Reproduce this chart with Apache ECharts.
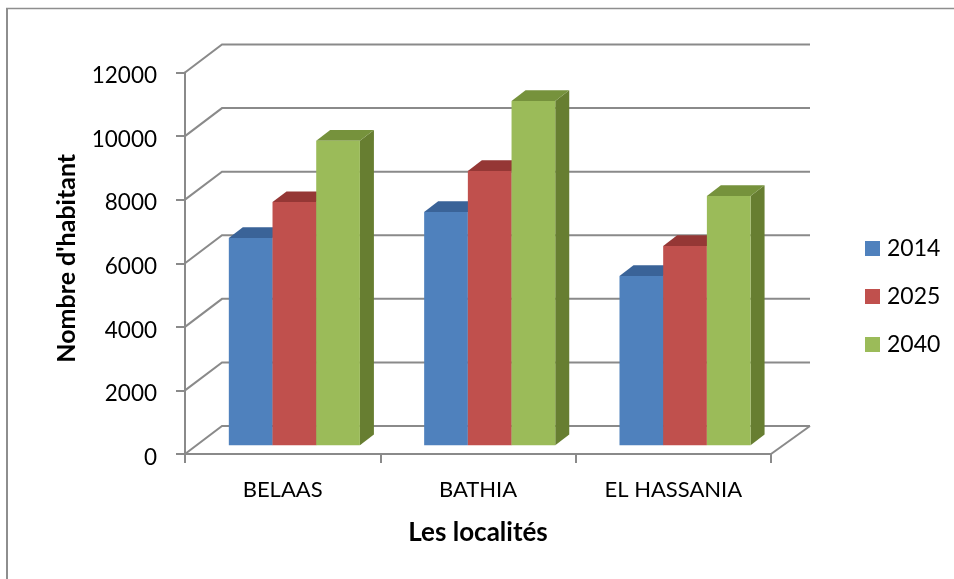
<!DOCTYPE html>
<html>
<head>
<meta charset="utf-8">
<style>html,body{margin:0;padding:0;background:#fff}#c{width:954px;height:579px}</style>
<script src="https://cdn.jsdelivr.net/npm/echarts@6/dist/echarts.min.js"></script>
</head>
<body>
<div id="c"></div>
<script>
// Population par localité, trois horizons
const localites = ['BELAAS', 'BATHIA', 'EL HASSANIA'];
const annees = ['2014', '2025', '2040'];
const pop2014 = [6520, 7340, 5325];
const pop2025 = [7650, 8630, 6270];
const pop2040 = [9580, 10830, 7840];
const graduations = [0, 2000, 4000, 6000, 8000, 10000, 12000];

const valeurs = [pop2014, pop2025, pop2040];
const faces = [
  { front: '#4F81BD', top: '#3A6398', side: '#38608F' },
  { front: '#C0504D', top: '#953735', side: '#8F3A38' },
  { front: '#9BBB59', top: '#76923C', side: '#677E31' }
];

// Oblique projection used for the pseudo-3D box
const wallDx = 37, wallDy = -28;     // front plane to back wall
const barDx = 11.7, barDy = -8.7;    // front plane to bar front face
const sideDx = 14, sideDy = -10.7;   // bar depth
const barRatio = 0.2237;             // bar width as a share of a category
const gridColor = '#8A8A8A';

function renderWall(params, api) {
  const cs = params.coordSys;
  const y = api.coord([0, api.value(1)])[1];
  const children = [{
    type: 'polyline',
    shape: { points: [[cs.x, y], [cs.x + wallDx, y + wallDy], [cs.x + cs.width + wallDx + 2, y + wallDy]] },
    style: { stroke: gridColor, lineWidth: 2, fill: null }
  }];
  if (api.value(1) === 0) {
    children.push({
      type: 'line',
      shape: { x1: cs.x + cs.width, y1: y, x2: cs.x + cs.width + wallDx + 2, y2: y + wallDy },
      style: { stroke: gridColor, lineWidth: 2 }
    });
  }
  return { type: 'group', children };
}

function barRenderer(idx) {
  return function (params, api) {
    const band = api.size([1, 0])[0];
    const w = band * barRatio;
    const top = api.coord([api.value(0), api.value(1)]);
    const base = api.coord([api.value(0), 0]);
    const x0 = top[0] + barDx + (idx - 1.5) * w;
    const x1 = x0 + w;
    const yT = top[1] + barDy;
    const yB = base[1] + barDy;
    const f = faces[idx];
    return {
      type: 'group',
      children: [
        { type: 'polygon', shape: { points: [[x1, yT], [x1 + sideDx, yT + sideDy], [x1 + sideDx, yB + sideDy], [x1, yB]] }, style: { fill: f.side } },
        { type: 'polygon', shape: { points: [[x0, yT], [x0 + sideDx, yT + sideDy], [x1 + sideDx, yT + sideDy], [x1, yT]] }, style: { fill: f.top } },
        { type: 'rect', shape: { x: x0, y: yT, width: w, height: yB - yT }, style: { fill: f.front } }
      ]
    };
  };
}

const chart = echarts.init(document.getElementById('c'), null, { renderer: 'canvas' });
chart.setOption({
  animation: false,
  backgroundColor: '#fff',
  textStyle: { fontFamily: 'Lato' },
  grid: { left: 185, right: 183, top: 72.5, bottom: 125 },
  legend: {
    data: annees,
    orient: 'vertical',
    left: 865,
    top: 237,
    padding: 0,
    itemWidth: 15,
    itemHeight: 15,
    itemGap: 25,
    icon: 'rect',
    textStyle: { fontFamily: 'Lato', fontSize: 23, lineHeight: 15, color: '#000', padding: [0, 0, 0, 2] }
  },
  xAxis: {
    type: 'category',
    data: localites,
    name: 'Les localités',
    nameLocation: 'middle',
    nameGap: 66,
    nameTextStyle: { fontFamily: 'Lato', fontWeight: 'bold', fontSize: 26, color: '#000' },
    axisLine: { lineStyle: { color: gridColor, width: 2 } },
    axisTick: { show: true, length: 9, lineStyle: { color: gridColor, width: 2 } },
    axisLabel: { fontFamily: 'Lato', fontSize: 22, color: '#000', margin: 25 },
    splitLine: { show: false }
  },
  yAxis: {
    type: 'value',
    min: 0,
    max: 12000,
    interval: 2000,
    name: "Nombre d'habitant",
    nameLocation: 'middle',
    nameGap: 106,
    nameRotate: 90,
    nameTextStyle: { fontFamily: 'Lato', fontWeight: 'bold', fontSize: 25, color: '#000', padding: [0, 0, 0, 10] },
    axisLine: { show: true, lineStyle: { color: gridColor, width: 2 } },
    axisTick: { show: true, length: 9, lineStyle: { color: gridColor, width: 2 } },
    axisLabel: { fontFamily: 'Lato', fontSize: 22.5, color: '#000', margin: 28, verticalAlign: 'top', lineHeight: 7, formatter: v => String(v) },
    splitLine: { show: false }
  },
  graphic: [
    // outer frame: only the top and left edges are drawn
    { type: 'line', silent: true, shape: { x1: 6, y1: 8.5, x2: 954, y2: 8.5 }, style: { stroke: '#8E8E8E', lineWidth: 1.5 } },
    { type: 'line', silent: true, shape: { x1: 7, y1: 8, x2: 7, y2: 579 }, style: { stroke: '#8E8E8E', lineWidth: 2 } }
  ],
  series: [
    {
      type: 'custom',
      name: 'parois',
      silent: true,
      clip: false,
      z: 1,
      renderItem: renderWall,
      encode: { x: 0, y: 1 },
      data: graduations.map(t => [0, t])
    }
  ].concat(annees.map((a, idx) => ({
    type: 'custom',
    name: a,
    silent: true,
    clip: false,
    z: 3 + idx,
    itemStyle: { color: faces[idx].front },
    renderItem: barRenderer(idx),
    encode: { x: 0, y: 1 },
    data: valeurs[idx].map((v, i) => [i, v])
  })))
});
</script>
</body>
</html>
